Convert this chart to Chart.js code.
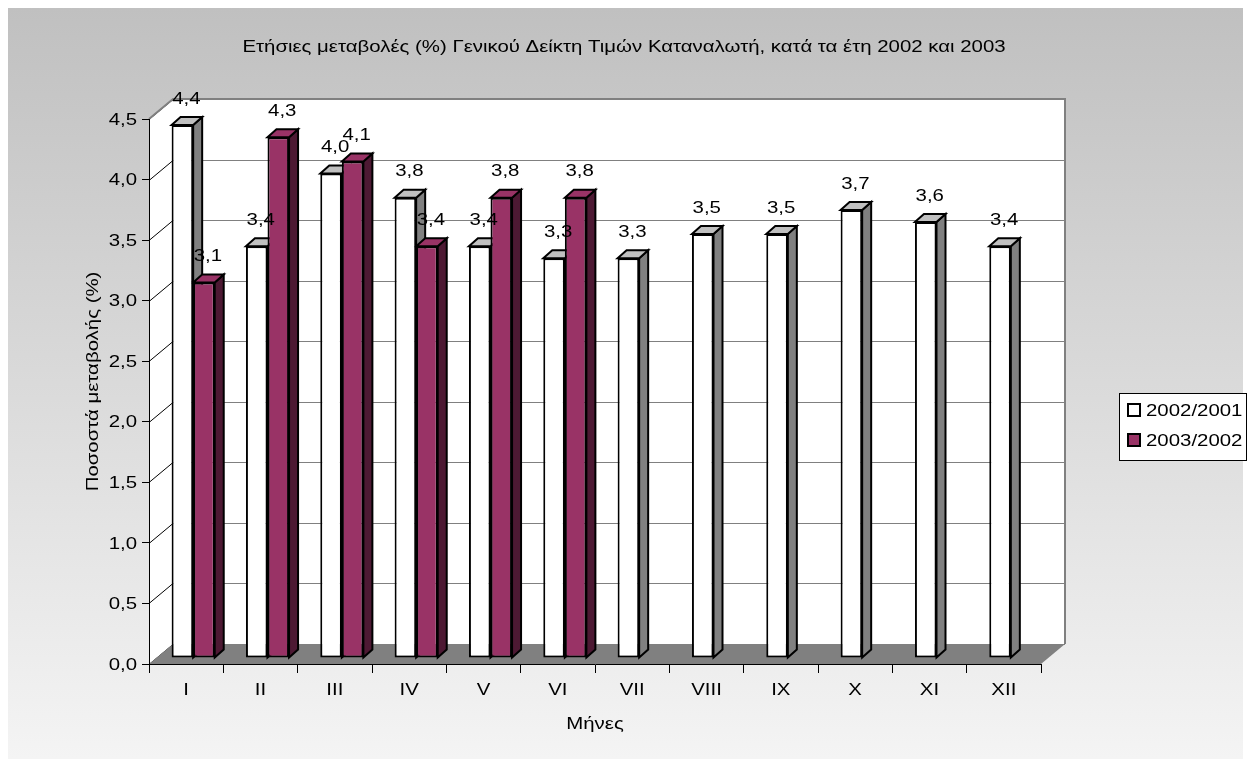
<!DOCTYPE html>
<html>
<head>
<meta charset="utf-8">
<script src="https://cdn.jsdelivr.net/npm/chart.js@4.4.1/dist/chart.umd.min.js"></script>
<style>
  html, body { margin: 0; padding: 0; background: #fff; }
  canvas { display: block; }
</style>
</head>
<body>
<canvas id="chart" width="1250" height="767"></canvas>
<script>
const months = ['I', 'II', 'III', 'IV', 'V', 'VI', 'VII', 'VIII', 'IX', 'X', 'XI', 'XII'];
const series2002 = [4.4, 3.4, 4.0, 3.8, 3.4, 3.3, 3.3, 3.5, 3.5, 3.7, 3.6, 3.4];
const series2003 = [3.1, 4.3, 4.1, 3.4, 3.8, 3.8, null, null, null, null, null, null];
const seriesNames = ['2002/2001', '2003/2002'];
const chartTitle = 'Ετήσιες μεταβολές (%) Γενικού Δείκτη Τιμών Καταναλωτή, κατά τα έτη 2002 και 2003';
const yTitle = 'Ποσοστά μεταβολής (%)';
const xTitle = 'Μήνες';

const FONT = "17px 'Liberation Sans', Arial, sans-serif";
const STRETCH = 1.2;                // the original text runs wide
const WALL = { dx: 24, dy: -20 };   // depth of the back wall
const SHIFT = { dx: 7, dy: -6 };    // bars sit a bit back from the front plane
const BAR = { dx: 9, dy: -8 };      // depth of each bar

const faces = [
  { front: '#ffffff', top: '#c0c0c0', side: '#808080' },
  { front: '#993366', top: '#993366', side: '#4d1933' }
];

const fmt = v => v.toFixed(1).replace('.', ',');

function poly(ctx, pts, fill, stroke, lw) {
  ctx.beginPath();
  ctx.moveTo(pts[0][0], pts[0][1]);
  for (let i = 1; i < pts.length; i++) ctx.lineTo(pts[i][0], pts[i][1]);
  ctx.closePath();
  if (fill) { ctx.fillStyle = fill; ctx.fill(); }
  if (stroke) { ctx.strokeStyle = stroke; ctx.lineWidth = lw || 1; ctx.stroke(); }
}

// wide text, like the Excel export
function wideText(ctx, text, x, y, align, rot) {
  ctx.save();
  ctx.translate(x, y);
  if (rot) ctx.rotate(rot);
  ctx.scale(STRETCH, 1);
  ctx.font = FONT;
  ctx.fillStyle = '#000';
  ctx.textAlign = align || 'center';
  ctx.textBaseline = 'middle';
  ctx.fillText(text, 0, 0);
  ctx.restore();
}

const excel3d = {
  id: 'excel3d',
  beforeDraw(chart) {
    const { ctx, chartArea: a } = chart;
    const y = chart.scales.y;
    const L = a.left, R = a.right, T = a.top, B = a.bottom;
    const dx = WALL.dx, dy = WALL.dy;
    ctx.save();
    ctx.fillStyle = '#fff';
    ctx.fillRect(0, 0, chart.width, chart.height);
    const g = ctx.createLinearGradient(0, 8, 0, 759);
    g.addColorStop(0, '#c0c0c0');
    g.addColorStop(1, '#f4f4f4');
    ctx.fillStyle = g;
    ctx.fillRect(8, 8, 1235, 751);

    // back wall and side wall
    ctx.fillStyle = '#fff';
    ctx.fillRect(L + dx, T + dy, R - L, B - T);
    poly(ctx, [[L, T], [L + dx, T + dy], [L + dx, B + dy], [L, B]], '#fff');

    // gridlines
    y.ticks.forEach(t => {
      const py = Math.round(y.getPixelForValue(t.value)) + 0.5;
      ctx.beginPath();
      ctx.strokeStyle = '#808080';
      ctx.lineWidth = 1;
      ctx.moveTo(L + dx, py + dy);
      ctx.lineTo(R + dx, py + dy);
      ctx.stroke();
      ctx.beginPath();
      ctx.strokeStyle = '#000';
      ctx.moveTo(L, py);
      ctx.lineTo(L + dx, py + dy);
      ctx.stroke();
    });

    // floor
    poly(ctx, [[L, B], [L + dx, B + dy], [R + dx, B + dy], [R, B]], '#808080');

    // frame edges
    ctx.beginPath();
    ctx.strokeStyle = '#808080';
    ctx.lineWidth = 2;
    ctx.moveTo(L, T);
    ctx.lineTo(L + dx, T + dy);
    ctx.lineTo(R + dx, T + dy);
    ctx.lineTo(R + dx, B + dy);
    ctx.stroke();
    ctx.restore();
  },
  beforeDatasetsDraw(chart) {
    const ctx = chart.ctx;
    ctx.save();
    ctx.translate(SHIFT.dx, SHIFT.dy);
    chart.data.datasets.forEach((ds, di) => {
      const meta = chart.getDatasetMeta(di);
      meta.data.forEach((el, i) => {
        if (ds.data[i] == null) return;
        const { x, y, width, base } = el.getProps(['x', 'y', 'width', 'base'], true);
        const l = x - width / 2, r = x + width / 2;
        poly(ctx, [[r, y], [r + BAR.dx, y + BAR.dy], [r + BAR.dx, base + BAR.dy], [r, base]],
          faces[di].side, '#000', 2);
        poly(ctx, [[l, y], [l + BAR.dx, y + BAR.dy], [r + BAR.dx, y + BAR.dy], [r, y]],
          faces[di].top, '#000', 2);
      });
    });
  },
  afterDatasetsDraw(chart) {
    const ctx = chart.ctx;
    ctx.restore();
    chart.data.datasets.forEach((ds, di) => {
      const meta = chart.getDatasetMeta(di);
      meta.data.forEach((el, i) => {
        const v = ds.data[i];
        if (v == null) return;
        wideText(ctx, fmt(v), el.x + SHIFT.dx + 4, el.y + SHIFT.dy - 26);
      });
    });
  },
  afterDraw(chart) {
    const { ctx, chartArea: a } = chart;
    const { x, y } = chart.scales;

    // tick labels and axis titles
    y.ticks.forEach(t => wideText(ctx, fmt(t.value), a.left - 12, y.getPixelForValue(t.value) + 1, 'right'));
    months.forEach((m, i) => wideText(ctx, m, x.getPixelForTick(i), a.bottom + 26));
    wideText(ctx, yTitle, 93, (a.top + WALL.dy + a.bottom) / 2, 'center', -Math.PI / 2);
    wideText(ctx, xTitle, (a.left + a.right) / 2, 724);
    wideText(ctx, chartTitle, 624, 47);

    // legend
    ctx.save();
    ctx.fillStyle = '#fff';
    ctx.fillRect(1119.5, 393.5, 127, 67);
    ctx.strokeStyle = '#000';
    ctx.lineWidth = 1;
    ctx.strokeRect(1119.5, 393.5, 127, 67);
    seriesNames.forEach((name, i) => {
      const cy = 410 + i * 30;
      ctx.fillStyle = faces[i].front;
      ctx.fillRect(1128, cy - 6, 12, 12);
      ctx.strokeStyle = '#000';
      ctx.lineWidth = 2;
      ctx.strokeRect(1128, cy - 6, 12, 12);
      wideText(ctx, name, 1146, cy + 1, 'left');
    });
    ctx.restore();
  }
};

new Chart(document.getElementById('chart').getContext('2d'), {
  type: 'bar',
  data: {
    labels: months,
    datasets: [
      {
        label: seriesNames[0],
        data: series2002,
        backgroundColor: faces[0].front,
        borderColor: '#000',
        borderWidth: 2,
        borderSkipped: false,
        clip: false
      },
      {
        label: seriesNames[1],
        data: series2003,
        backgroundColor: faces[1].front,
        borderColor: '#000',
        borderWidth: 2,
        borderSkipped: false,
        clip: false
      }
    ]
  },
  options: {
    responsive: false,
    animation: false,
    devicePixelRatio: 1,
    categoryPercentage: 0.58,
    barPercentage: 1,
    layout: { padding: { left: 90, top: 119, right: 209, bottom: 29 } },
    plugins: {
      legend: { display: false },
      title: { display: false },
      tooltip: { enabled: false }
    },
    scales: {
      x: {
        grid: { offset: true, drawOnChartArea: false, color: '#000', tickLength: 9 },
        border: { color: '#000', width: 1 },
        ticks: { display: false },
        afterFit: s => { s.height = 74; }
      },
      y: {
        min: 0,
        max: 4.5,
        grid: { drawOnChartArea: false, color: '#000', tickLength: 7 },
        border: { color: '#000', width: 1 },
        ticks: { stepSize: 0.5, display: false },
        afterFit: s => { s.width = 59; }
      }
    }
  },
  plugins: [excel3d]
});
</script>
</body>
</html>
